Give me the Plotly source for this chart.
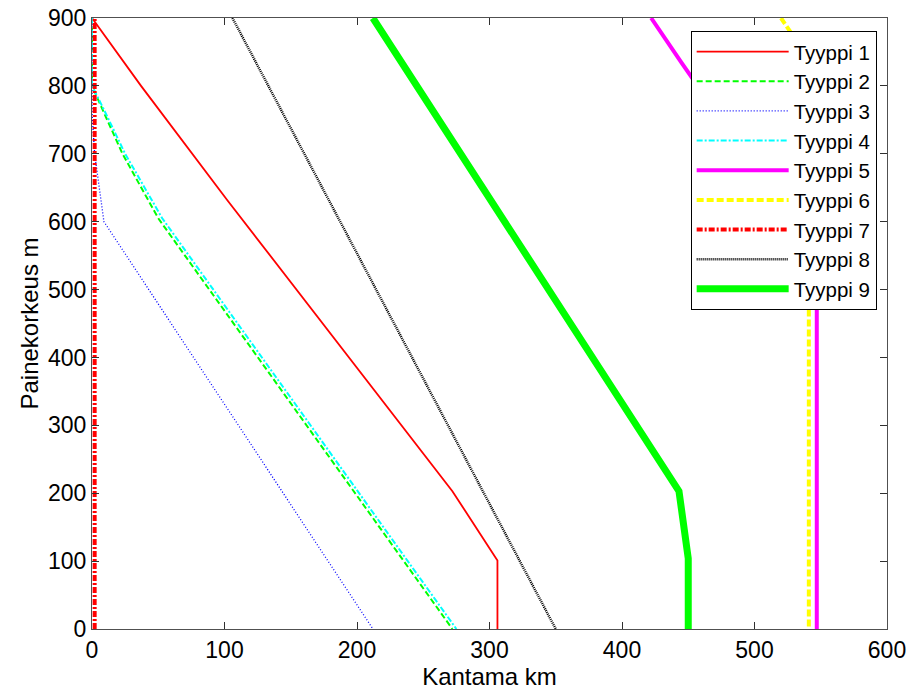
import plotly.graph_objects as go

# Data (x = range km, y = pressure height m)
t1_x = [0, 37, 102, 250, 272, 306, 306]
t1_y = [900, 800, 632, 259, 203, 101, 0]
t2_x = [0, 0, 8, 23, 50, 272]
t2_y = [900, 800, 765, 700, 605, 0]
t3_x = [0, 0, 2, 9, 212]
t3_y = [900, 760, 700, 600, 0]
t4_x = [0, 0, 9, 25, 53, 275]
t4_y = [900, 800, 765, 700, 605, 0]
t5_x = [422, 445, 547, 547]
t5_y = [900, 834, 548, 0]
t6_x = [520, 541, 541]
t6_y = [900, 840, 0]
t7_x = [2, 2]
t7_y = [0, 900]
t8_x = [106, 350]
t8_y = [900, 0]
t9_x = [212, 443, 450, 450]
t9_y = [900, 203, 104, 0]

names = ["Tyyppi 1", "Tyyppi 2", "Tyyppi 3", "Tyyppi 4", "Tyyppi 5",
         "Tyyppi 6", "Tyyppi 7", "Tyyppi 8", "Tyyppi 9"]
xs = [t1_x, t2_x, t3_x, t4_x, t5_x, t6_x, t7_x, t8_x, t9_x]
ys = [t1_y, t2_y, t3_y, t4_y, t5_y, t6_y, t7_y, t8_y, t9_y]
colors = ["#ff0000", "#00ff00", "#0000ff", "#00ffff", "#ff00ff",
          "#ffff00", "#ff0000", "#000000", "#00ff00"]
widths = [1.8, 2, 1.3, 2, 4, 4, 4, 2.5, 7]
dashes = ["solid", "6px,3px", "1px,2px", "6px,2px,2px,2px", "solid",
          "7px,3px", "6px,2px,2px,2px", "1px,1px", "solid"]

fig = go.Figure()
for n, x, y, c, w, d in zip(names, xs, ys, colors, widths, dashes):
    fig.add_trace(go.Scatter(x=x, y=y, mode="lines", name=n,
                             line=dict(color=c, width=w, dash=d)))

font = "Liberation Sans, Arial, sans-serif"
axis_common = dict(showgrid=False, zeroline=False, showline=True,
                   linecolor="#505050", linewidth=1, mirror="ticks",
                   ticks="inside", ticklen=7, tickcolor="#303030",
                   automargin=False,
                   tickfont=dict(family=font, size=23, color="black"))

fig.update_layout(
    width=911, height=697,
    margin=dict(l=92, r=24, t=18, b=68),
    paper_bgcolor="white", plot_bgcolor="white",
    font=dict(family=font, color="black"),
    xaxis=dict(range=[0, 600], dtick=100,
               title=dict(text="Kantama km", font=dict(family=font, size=24),
                          standoff=2),
               **axis_common),
    yaxis=dict(range=[0, 900], dtick=100,
               title=dict(text="Painekorkeus m", font=dict(family=font, size=24),
                          standoff=2),
               **axis_common),
    legend=dict(x=0.987, y=0.979, xanchor="right", yanchor="top",
                bgcolor="white", bordercolor="black", borderwidth=1,
                font=dict(family=font, size=20.5, color="black"),
                itemwidth=92, tracegroupgap=0),
    showlegend=True,
)

fig.write_html("out.html")
